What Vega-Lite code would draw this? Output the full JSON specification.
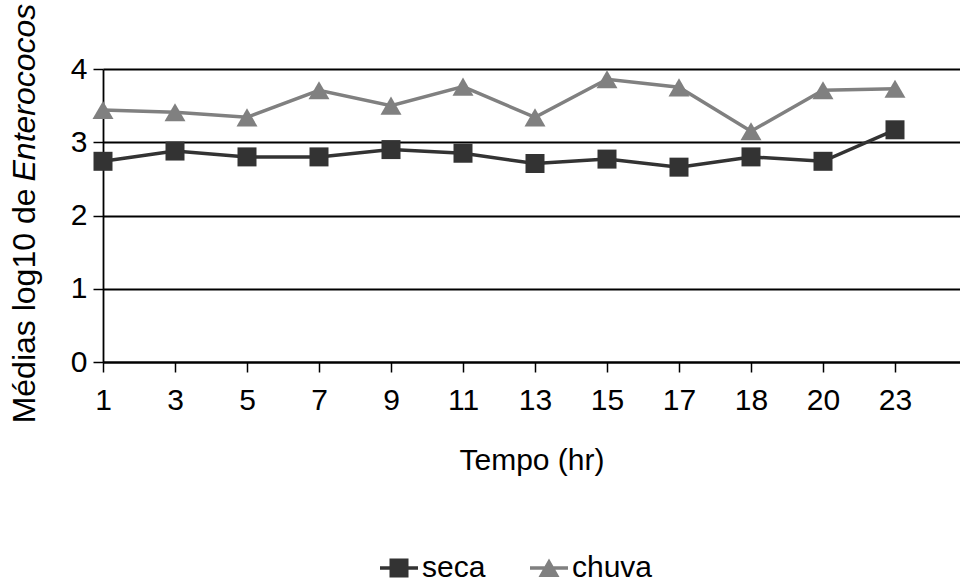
{
  "$schema": "https://vega.github.io/schema/vega-lite/v6.json",
  "width": 857,
  "height": 293,
  "autosize": "none",
  "padding": {"left": 103, "top": 69, "right": 0, "bottom": 220},
  "background": "white",
  "config": {
    "font": "Liberation Sans",
    "view": {"stroke": null}
  },
  "data": {
    "values": [
      {"tempo": "1", "serie": "seca", "valor": 2.74},
      {"tempo": "3", "serie": "seca", "valor": 2.88},
      {"tempo": "5", "serie": "seca", "valor": 2.80},
      {"tempo": "7", "serie": "seca", "valor": 2.80},
      {"tempo": "9", "serie": "seca", "valor": 2.90},
      {"tempo": "11", "serie": "seca", "valor": 2.85},
      {"tempo": "13", "serie": "seca", "valor": 2.71},
      {"tempo": "15", "serie": "seca", "valor": 2.77},
      {"tempo": "17", "serie": "seca", "valor": 2.66},
      {"tempo": "18", "serie": "seca", "valor": 2.80},
      {"tempo": "20", "serie": "seca", "valor": 2.74},
      {"tempo": "23", "serie": "seca", "valor": 3.17},
      {"tempo": "1", "serie": "chuva", "valor": 3.44},
      {"tempo": "3", "serie": "chuva", "valor": 3.41},
      {"tempo": "5", "serie": "chuva", "valor": 3.34},
      {"tempo": "7", "serie": "chuva", "valor": 3.71},
      {"tempo": "9", "serie": "chuva", "valor": 3.50},
      {"tempo": "11", "serie": "chuva", "valor": 3.76},
      {"tempo": "13", "serie": "chuva", "valor": 3.34},
      {"tempo": "15", "serie": "chuva", "valor": 3.86},
      {"tempo": "17", "serie": "chuva", "valor": 3.75},
      {"tempo": "18", "serie": "chuva", "valor": 3.15},
      {"tempo": "20", "serie": "chuva", "valor": 3.71},
      {"tempo": "23", "serie": "chuva", "valor": 3.73}
    ]
  },
  "encoding": {
    "x": {
      "field": "tempo",
      "type": "ordinal",
      "scale": {
        "type": "point",
        "domain": ["1", "3", "5", "7", "9", "11", "13", "15", "17", "18", "20", "23"],
        "padding": 0.4514,
        "align": 0
      },
      "axis": {
        "domain": true,
        "domainColor": "#000000",
        "domainWidth": 2,
        "grid": false,
        "ticks": true,
        "tickSize": 10,
        "tickWidth": 1.5,
        "tickColor": "#000000",
        "labelAngle": 0,
        "labelFontSize": 30,
        "labelColor": "#000000",
        "labelPadding": 13,
        "title": "Tempo (hr)",
        "titleFontSize": 30,
        "titleFontWeight": "normal",
        "titleColor": "#000000",
        "titleBaseline": "alphabetic",
        "titleX": 428.5,
        "titleY": 107
      }
    }
  },
  "layer": [
    {
      "mark": {"type": "line", "strokeWidth": 3.5},
      "encoding": {
        "y": {
          "field": "valor",
          "type": "quantitative",
          "scale": {"domain": [0, 4], "nice": false, "zero": true},
          "axis": {
            "orient": "left",
            "values": [0, 1, 2, 3, 4],
            "grid": true,
            "gridColor": "#000000",
            "gridWidth": 1.8,
            "gridOpacity": 1,
            "domain": true,
            "domainColor": "#000000",
            "domainWidth": 1.8,
            "ticks": true,
            "tickSize": 10,
            "tickWidth": 1.5,
            "tickColor": "#000000",
            "labelFontSize": 30,
            "labelColor": "#000000",
            "labelPadding": 6,
            "title": "Médias log10 de",
            "titleFontSize": 32,
            "titleFontWeight": "normal",
            "titleColor": "#000000",
            "titleAngle": 270,
            "titleAlign": "right",
            "titleBaseline": "alphabetic",
            "titleX": -69,
            "titleY": 119
          }
        },
        "color": {
          "field": "serie",
          "type": "nominal",
          "scale": {"domain": ["seca", "chuva"], "range": ["#333333", "#808080"]},
          "legend": null
        }
      }
    },
    {
      "mark": {"type": "point", "filled": true, "opacity": 1},
      "encoding": {
        "y": {
          "field": "valor",
          "type": "quantitative",
          "scale": {"domain": [0, 4], "nice": false, "zero": true},
          "axis": {
            "orient": "left",
            "labels": false,
            "ticks": false,
            "domain": false,
            "grid": false,
            "title": "Enterococos",
            "titleFontSize": 32,
            "titleFontWeight": "normal",
            "titleFontStyle": "italic",
            "titleColor": "#000000",
            "titleAngle": 270,
            "titleAlign": "left",
            "titleBaseline": "alphabetic",
            "titleX": -69,
            "titleY": 112
          }
        },
        "color": {
          "field": "serie",
          "type": "nominal",
          "scale": {"domain": ["seca", "chuva"], "range": ["#333333", "#808080"]},
          "legend": null
        },
        "shape": {
          "field": "serie",
          "type": "nominal",
          "scale": {"domain": ["seca", "chuva"], "range": ["square", "triangle-up"]},
          "legend": null
        },
        "size": {
          "field": "serie",
          "type": "nominal",
          "scale": {"domain": ["seca", "chuva"], "range": [361, 440]},
          "legend": null
        }
      }
    },
    {
      "transform": [{"filter": "false"}],
      "mark": {"type": "point", "filled": true, "opacity": 1},
      "encoding": {
        "y": {
          "field": "valor",
          "type": "quantitative",
          "scale": {"domain": [0, 4], "nice": false, "zero": true},
          "axis": null
        },
        "color": {
          "field": "serie",
          "type": "nominal",
          "scale": {"domain": ["seca", "chuva"], "range": ["#333333", "#808080"]},
          "legend": {
            "orient": "none",
            "legendX": 281,
            "legendY": 484,
            "direction": "horizontal",
            "title": null,
            "labelFontSize": 30,
            "labelColor": "#000000",
            "labelOffset": 8,
            "columnPadding": 41,
            "symbolSize": 400,
            "symbolOpacity": 1
          }
        },
        "shape": {
          "field": "serie",
          "type": "nominal",
          "scale": {
            "domain": ["seca", "chuva"],
            "range": [
              "M-1.9,-0.17H1.9V0.17H-1.9Z M-0.95,-0.95H0.95V0.95H-0.95Z",
              "M-1.9,-0.17H1.9V0.17H-1.9Z M0,-0.95L1.05,0.9H-1.05Z"
            ]
          },
          "legend": {
            "orient": "none",
            "legendX": 281,
            "legendY": 484,
            "direction": "horizontal",
            "title": null,
            "labelFontSize": 30,
            "labelColor": "#000000",
            "labelOffset": 8,
            "columnPadding": 41,
            "symbolSize": 400,
            "symbolOpacity": 1
          }
        }
      }
    }
  ],
  "resolve": {
    "axis": {"y": "independent"},
    "scale": {"shape": "independent", "color": "independent"}
  }
}
